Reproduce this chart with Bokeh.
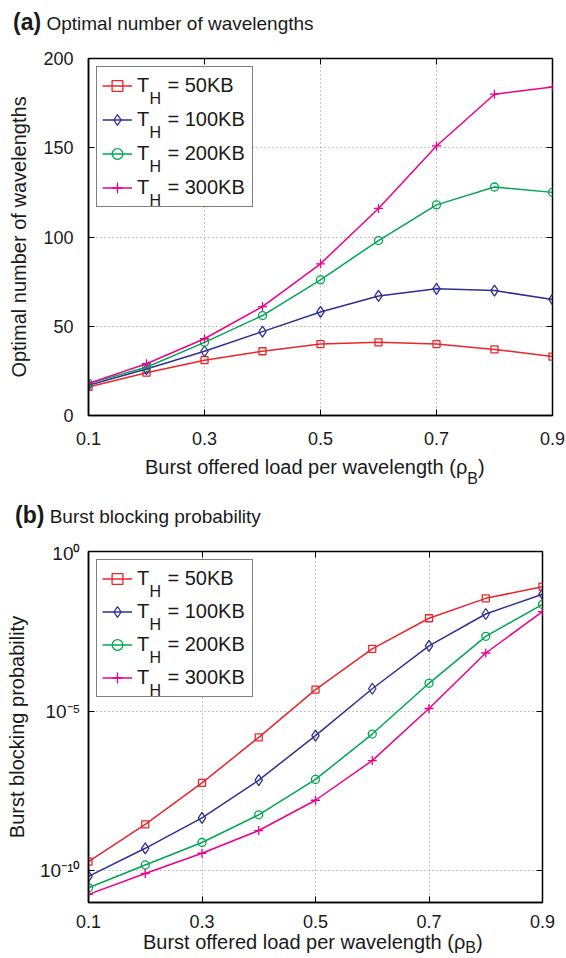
from bokeh.plotting import figure
from bokeh.models import (Label, Legend, LegendItem, FixedTicker, LinearAxis, LogAxis,
                          CustomJSTickFormatter, Range1d, Div, BoxAnnotation)
from bokeh.layouts import column
from bokeh.embed import file_html
from bokeh.resources import INLINE

# ---------------- data ----------------
loads = [0.1, 0.2, 0.3, 0.4, 0.5, 0.6, 0.7, 0.8, 0.9]
x_ticks = [0.1, 0.3, 0.5, 0.7, 0.9]
wl_ticks = [0, 50, 100, 150, 200]
bp_ticks = [1e-10, 1e-5, 1.0]
bp_tick_labels = ["10\u207b\u00b9\u2070", "10\u207b\u2075", "10\u2070"]

series_labels = ["= 50KB", "= 100KB", "= 200KB", "= 300KB"]

# (a) optimal number of wavelengths
wl_50 = [16, 24, 31, 36, 40, 41, 40, 37, 33]
wl_100 = [17, 26, 36, 47, 58, 67, 71, 70, 65]
wl_200 = [18, 27, 41, 56, 76, 98, 118, 128, 125]
wl_300 = [18, 29, 43, 61, 85, 116, 151, 180, 184]

# (b) burst blocking probability
bp_50 = [1.9e-10, 2.8e-9, 5.6e-8, 1.5e-6, 4.7e-5, 8.9e-4, 8.1e-3, 3.4e-2, 7.9e-2]
bp_100 = [6.6e-11, 5.0e-10, 4.5e-9, 6.8e-8, 1.7e-6, 5.0e-5, 1.1e-3, 1.1e-2, 4.6e-2]
bp_200 = [2.9e-11, 1.5e-10, 7.6e-10, 5.6e-9, 7.2e-8, 1.9e-6, 7.4e-5, 2.2e-3, 2.2e-2]
bp_300 = [1.8e-11, 8.1e-11, 3.5e-10, 1.8e-9, 1.6e-8, 2.8e-7, 1.2e-5, 6.6e-4, 1.3e-2]

# ---------------- styles ----------------
FONT = "Liberation Sans"
TXT = "#1a1a1a"
colors = ["#e8262b", "#2e3192", "#00a651", "#ec008c"]
markers = ["square", "diamond", "circle", "cross"]
marker_sizes = [7, 11, 8, 9]

LEG_MARGIN = 8
LEG_PAD = 5
LEG_ROW = 27
LEG_GLYPH_W = 30
LEG_STANDOFF = 5
LEG_LABEL_W = 110


def style_axis(ax):
    ax.axis_line_color = "black"
    ax.axis_line_width = 1.5
    ax.major_tick_in = 6
    ax.major_tick_out = 0
    ax.minor_tick_in = 0
    ax.minor_tick_out = 0
    ax.major_tick_line_color = "black"
    ax.major_tick_line_width = 1
    ax.major_label_text_font = FONT
    ax.major_label_text_font_size = "18px"
    ax.major_label_text_color = TXT
    ax.axis_label_text_font = FONT
    ax.axis_label_text_font_size = "20px"
    ax.axis_label_text_font_style = "normal"
    ax.axis_label_text_color = TXT


def blank_axis(ax):
    style_axis(ax)
    ax.axis_line_color = None
    ax.major_label_standoff = 0
    ax.major_label_text_font_size = "1px"
    ax.formatter = CustomJSTickFormatter(code="return ''")


def style_frame(p):
    p.outline_line_color = "black"
    p.outline_line_width = 1.5
    p.background_fill_color = "white"
    p.border_fill_color = "white"
    for g in (p.xgrid, p.ygrid):
        g.grid_line_color = "#8c8c8c"
        g.grid_line_dash = "1 3"
        g.grid_line_width = 1


def build(p, ys, fh, spacing):
    n = len(ys)
    box_w = 2 * LEG_PAD + LEG_GLYPH_W + LEG_STANDOFF + LEG_LABEL_W
    box_h = 2 * LEG_PAD + n * LEG_ROW + (n - 1) * spacing
    # white backing for the legend area (hides grid lines under the legend)
    p.add_layout(BoxAnnotation(left=LEG_MARGIN, right=LEG_MARGIN + box_w,
                               top=fh - LEG_MARGIN, bottom=fh - LEG_MARGIN - box_h,
                               left_units="screen", right_units="screen",
                               top_units="screen", bottom_units="screen",
                               fill_color="white", fill_alpha=1.0, line_color=None,
                               level="underlay"))
    items = []
    for i, y in enumerate(ys):
        ln = p.line(loads, y, line_color=colors[i], line_width=1.5)
        sc = p.scatter(loads, y, marker=markers[i], size=marker_sizes[i],
                       line_color=colors[i], fill_color=None, line_width=1.3)
        items.append(LegendItem(label="T", renderers=[ln, sc]))
    legend = Legend(items=items, location="top_left", margin=LEG_MARGIN, padding=LEG_PAD,
                    glyph_width=LEG_GLYPH_W, glyph_height=LEG_ROW, label_height=LEG_ROW,
                    label_width=LEG_LABEL_W, spacing=spacing, label_standoff=LEG_STANDOFF,
                    border_line_color="black", border_line_width=1.5,
                    background_fill_alpha=0.0,
                    label_text_font=FONT, label_text_font_size="20px",
                    label_text_color=TXT)
    p.add_layout(legend)
    first = LEG_MARGIN + LEG_PAD + LEG_ROW / 2
    step = LEG_ROW + spacing
    for i in range(n):
        c = first + i * step
        p.add_layout(Label(x=61, y=fh - c - 13, x_units="screen", y_units="screen",
                           text="H", text_font=FONT, text_font_size="16px",
                           text_baseline="middle", text_color=TXT))
        p.add_layout(Label(x=79, y=fh - c, x_units="screen", y_units="screen",
                           text=series_labels[i], text_font=FONT, text_font_size="20px",
                           text_baseline="middle", text_color=TXT))


def div(html, height, line_height, pad_left, size):
    return Div(text=(f'<span style="display:inline-block;margin-left:{pad_left}px;'
                     f'font-family:\'{FONT}\';font-size:{size}px;'
                     f'line-height:{line_height}px;color:{TXT};white-space:nowrap">'
                     f'{html}</span>'),
               width=566, height=height, margin=(0, 0, 0, 0))


# ---------------- panel (a) ----------------
FH1 = 357
p1 = figure(frame_width=464, frame_height=FH1, min_border_left=88, min_border_right=14,
            min_border_top=20, min_border_bottom=37,
            x_range=Range1d(0.1, 0.9), y_range=Range1d(0, 200),
            output_backend="svg", toolbar_location=None)
style_frame(p1)
p1.xaxis.ticker = FixedTicker(ticks=x_ticks)
p1.yaxis.ticker = FixedTicker(ticks=wl_ticks)
p1.xgrid.ticker = FixedTicker(ticks=x_ticks)
p1.ygrid.ticker = FixedTicker(ticks=wl_ticks)
for ax in p1.xaxis + p1.yaxis:
    style_axis(ax)
p1.xaxis.major_label_standoff = 16
p1.yaxis.major_label_standoff = 15
p1.yaxis.axis_label = "Optimal number of wavelengths"
p1.yaxis.axis_label_standoff = 10
top1 = LinearAxis(ticker=FixedTicker(ticks=x_ticks))
right1 = LinearAxis(ticker=FixedTicker(ticks=wl_ticks))
blank_axis(top1)
blank_axis(right1)
p1.add_layout(top1, "above")
p1.add_layout(right1, "right")
build(p1, [wl_50, wl_100, wl_200, wl_300], FH1, 7)

# ---------------- panel (b) ----------------
FH2 = 351
p2 = figure(frame_width=454, frame_height=FH2, min_border_left=88, min_border_right=24,
            min_border_top=9, min_border_bottom=33,
            x_range=Range1d(0.1, 0.9), y_range=Range1d(1e-11, 1.0), y_axis_type="log",
            output_backend="svg", toolbar_location=None)
style_frame(p2)
p2.xaxis.ticker = FixedTicker(ticks=x_ticks)
p2.yaxis.ticker = FixedTicker(ticks=bp_ticks)
p2.yaxis.formatter = CustomJSTickFormatter(
    args=dict(tvals=bp_ticks, tlabels=bp_tick_labels),
    code="""
let best = 0;
for (let i = 0; i < tvals.length; i++) {
  if (Math.abs(Math.log10(tvals[i]) - Math.log10(tick)) <
      Math.abs(Math.log10(tvals[best]) - Math.log10(tick))) { best = i; }
}
return tlabels[best];
""")
p2.xgrid.ticker = FixedTicker(ticks=x_ticks)
p2.ygrid.ticker = FixedTicker(ticks=bp_ticks)
for ax in p2.xaxis + p2.yaxis:
    style_axis(ax)
p2.yaxis.major_label_text_font_size = "19px"
p2.xaxis.major_label_standoff = 12
p2.yaxis.major_label_standoff = 8
p2.yaxis.axis_label = "Burst blocking probability"
p2.yaxis.axis_label_standoff = 9
top2 = LinearAxis(ticker=FixedTicker(ticks=x_ticks))
right2 = LogAxis(ticker=FixedTicker(ticks=bp_ticks))
blank_axis(top2)
blank_axis(right2)
p2.add_layout(top2, "above")
p2.add_layout(right2, "right")
build(p2, [bp_50, bp_100, bp_200, bp_300], FH2, 6)

# ---------------- titles and x-axis labels ----------------
title_a = div('<b style="font-size:23px">(a)</b> Optimal number of wavelengths', 38, 44, 13, 19)
xlab_a = div('Burst offered load per wavelength (\u03c1<span style="font-size:16px;'
             'position:relative;top:10px">B</span>)', 38, 30, 145, 20)
title_b = div('<b style="font-size:23px">(b)</b> Burst blocking probability', 52, 51, 15, 19)
xlab_b = div('Burst offered load per wavelength (\u03c1<span style="font-size:16px;'
             'position:relative;top:4px;line-height:14px">B</span>)', 23, 14, 143, 20)

layout = column(title_a, p1, xlab_a, title_b, p2, xlab_b, spacing=0)
open("out.html", "w").write(file_html(layout, INLINE))
